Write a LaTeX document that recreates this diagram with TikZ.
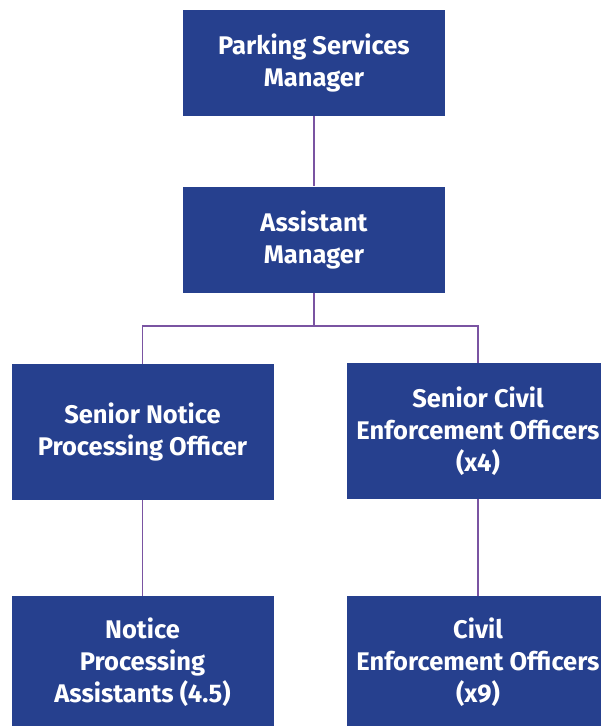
\documentclass[tikz,border=0pt]{standalone}
\usepackage{fontspec}
\setmainfont{Fira Sans}
\usepackage{tikz}

\begin{document}
\begin{tikzpicture}[x=1pt, y=-1pt,
  every node/.style={rectangle, fill=boxBlue, text=white, align=center,
    font=\bfseries\fontsize{25.5}{32}\selectfont, minimum width=262pt, inner sep=0pt}]
  \definecolor{boxBlue}{RGB}{38,64,142}
  \definecolor{linePurple}{RGB}{122,84,162}

  \useasboundingbox (0,0) rectangle (601,726);

  \node[minimum height=106pt] (PSM) at (314,63)  {Parking Services\\Manager};
  \node[minimum height=106pt] (AM)  at (314,239.5) {Assistant\\Manager};
  \node[minimum height=136pt] (SNPO) at (142.5,432) {Senior Notice\\Processing Officer};
  \node[minimum height=136pt] (SCEO) at (478,431) {Senior Civil\\Enforcement Officers\\(x4)};
  \node[minimum height=132pt] (NPA) at (142.5,662) {Notice\\Processing\\Assistants (4.5)};
  \node[minimum height=132pt] (CEO) at (478,662) {Civil\\Enforcement Officers\\(x9)};

  \coordinate (split) at (314,326);

  \draw[linePurple, line width=1.5pt] (PSM) -- (AM);
  \draw[linePurple, line width=1.5pt] (AM) -- (split);
  \draw[linePurple, line width=1.5pt] (split) -| (SNPO);
  \draw[linePurple, line width=1.5pt] (split) -| (SCEO);
  \draw[linePurple, line width=1.5pt] (SNPO) -- (NPA);
  \draw[linePurple, line width=1.5pt] (SCEO) -- (CEO);
\end{tikzpicture}
\end{document}
